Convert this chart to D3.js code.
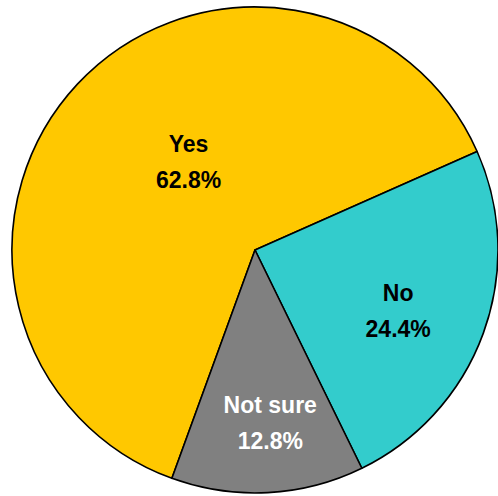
<!DOCTYPE html>
<html>
<head>
<meta charset="utf-8">
<script src="https://cdn.jsdelivr.net/npm/d3@7"></script>
<style>
  html, body { margin: 0; padding: 0; background: #ffffff; }
  svg { display: block; }
</style>
</head>
<body>
<svg id="chart" width="498" height="496"></svg>
<script>
// Survey answers and their shares (percent)
const categories = ["Yes", "No", "Not sure"];
const values = [62.8, 24.4, 12.8];
const labels = ["62.8%", "24.4%", "12.8%"];

const colors = ["#FFC800", "#33CCCC", "#808080"];
const textColors = ["#000000", "#000000", "#ffffff"];

const width = 498, height = 496;
const cx = 255, cy = 250, radius = 243;

// label placement: fraction of radius and angular nudge (degrees) from slice middle
const labelPlace = [
  { r: 0.455, shift: 10 },
  { r: 0.64, shift: 3 },
  { r: 0.715, shift: -2 }
];

const svg = d3.select("#chart");
const g = svg.append("g").attr("transform", `translate(${cx},${cy})`);

const start = -160 * Math.PI / 180;
const pie = d3.pie().sort(null).startAngle(start).endAngle(start + 2 * Math.PI);
const arcs = pie(values);

const arc = d3.arc().innerRadius(0).outerRadius(radius);

g.selectAll("path.slice")
  .data(arcs)
  .join("path")
  .attr("class", "slice")
  .attr("d", arc)
  .attr("fill", (d, i) => colors[i])
  .attr("stroke", "#000")
  .attr("stroke-width", 1.6)
  .attr("stroke-linejoin", "round");

const lab = g.selectAll("g.lab")
  .data(arcs)
  .join("g")
  .attr("class", "lab")
  .attr("transform", (d, i) => {
    const a = (d.startAngle + d.endAngle) / 2 + labelPlace[i].shift * Math.PI / 180;
    const r = radius * labelPlace[i].r;
    return `translate(${r * Math.sin(a)},${-r * Math.cos(a)})`;
  });

lab.append("text")
  .attr("text-anchor", "middle")
  .attr("y", -10)
  .attr("font-family", "'Liberation Sans', Arial, sans-serif")
  .attr("font-weight", "bold")
  .attr("font-size", 23)
  .attr("fill", (d, i) => textColors[i])
  .text((d, i) => categories[i]);

lab.append("text")
  .attr("text-anchor", "middle")
  .attr("y", 26)
  .attr("font-family", "'Liberation Sans', Arial, sans-serif")
  .attr("font-weight", "bold")
  .attr("font-size", 23)
  .attr("fill", (d, i) => textColors[i])
  .text((d, i) => labels[i]);
</script>
</body>
</html>
